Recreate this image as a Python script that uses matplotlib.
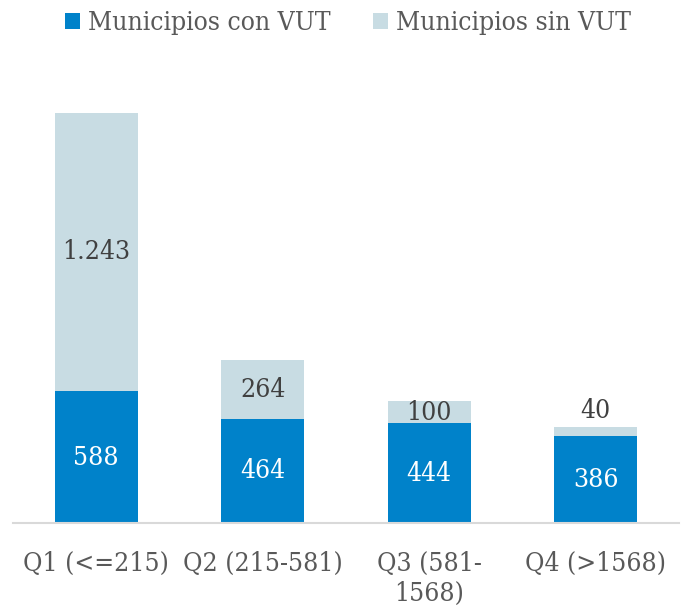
import matplotlib
matplotlib.use("Agg")
import matplotlib.pyplot as plt

plt.rcParams['font.family'] = ['DejaVu Serif']
plt.rcParams['font.stretch'] = 'condensed'

categories = ["Q1 (<=215)", "Q2 (215-581)", "Q3 (581-\n1568)", "Q4 (>1568)"]
con_vut = [588, 464, 444, 386]
sin_vut = [1243, 264, 100, 40]
sin_labels = ["1.243", "264", "100", "40"]
series_names = ["Municipios con VUT", "Municipios sin VUT"]

blue = "#0082CA"
light = "#C8DCE3"
txt = "#595959"

fig = plt.figure(figsize=(6.83, 6.08), dpi=100)
ax = fig.add_axes([0.019, 0.14, 0.975, 0.737])

x = range(len(categories))
b1 = ax.bar(x, con_vut, width=0.5, color=blue, label=series_names[0])
b2 = ax.bar(x, sin_vut, width=0.5, bottom=con_vut, color=light, label=series_names[1])

fs = 19
for i, (c, s, sl) in enumerate(zip(con_vut, sin_vut, sin_labels)):
    ax.text(i, c / 2, str(c), ha='center', va='center', color='white', fontsize=fs)
    if s >= 80:
        ax.text(i, c + s / 2, sl, ha='center', va='center', color='#404040', fontsize=fs)
    else:
        ax.text(i, c + s + 20, sl, ha='center', va='bottom', color='#404040', fontsize=fs)

ax.set_xlim(-0.5, 3.5)
ax.set_ylim(0, 2000)
ax.set_xticks(list(x))
ax.set_xticklabels(categories, fontsize=fs, color=txt, linespacing=1.25)
ax.tick_params(axis='x', length=0, pad=20)
ax.set_yticks([])
for sp in ['top', 'right', 'left']:
    ax.spines[sp].set_visible(False)
ax.spines['bottom'].set_color('#D9D9D9')
ax.spines['bottom'].set_linewidth(1.5)

leg = fig.legend(handles=[b1, b2], loc='upper center', bbox_to_anchor=(0.51, 1.022), ncol=2,
                 frameon=False, fontsize=fs, handlelength=0.57, handleheight=0.57,
                 handletextpad=0.3, columnspacing=1.6)
for t in leg.get_texts():
    t.set_color(txt)

fig.savefig("out.png", dpi=100)
